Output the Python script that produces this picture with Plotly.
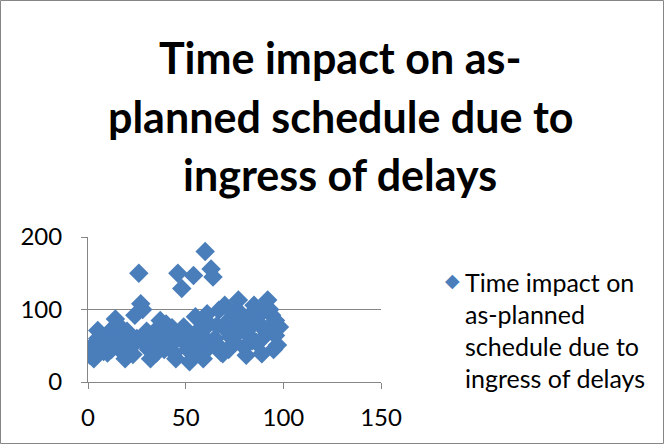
import plotly.graph_objects as go

x_vals = [1,2,3,4,5,6,7,8,9,10,11,12,13,14,15,16,17,18,19,20,21,22,23,24,25,26,27,28,29,30,
          31,32,33,34,35,36,37,38,39,40,41,42,43,44,45,46,47,48,49,50,51,52,53,54,55,56,57,58,59,60,
          61,62,63,64,65,66,67,68,69,70,71,72,73,74,75,76,77,78,79,80,81,82,83,84,85,86,87,88,89,90,
          91,92,93,94,95,96,97,98,
          5,10,15,20,30,35,40,43,48,55,58,62,66,72,75,78,82,86,90,94,96,60,50,38]
y_vals = [37,45,32,55,71,48,60,42,52,65,57,45,75,87,62,50,68,40,32,55,62,48,38,92,60,150,108,100,53,70,
          45,32,62,50,57,75,85,68,45,80,60,71,52,40,32,150,65,129,76,55,45,28,62,147,90,70,48,38,32,180,
          94,80,156,145,60,52,99,41,39,106,71,85,62,90,55,100,113,71,80,48,37,65,75,57,106,88,95,80,39,62,
          70,113,100,92,45,64,51,76,
          60,40,80,70,60,40,65,75,58,45,85,48,78,45,75,95,90,55,100,75,85,60,70,55]
x_ticks = [0, 50, 100, 150]
y_ticks = [0, 100, 200]
series_name = "Time impact on as-planned schedule due to ingress of delays"
title_lines = ["Time impact on as-", "planned schedule due to", "ingress of delays"]
legend_lines = ["Time impact on", "as-planned", "schedule due to", "ingress of delays"]

W, H = 665, 445
L, R, T, B = 88, 381, 237, 382
pw, ph = R - L, B - T
def px(x): return (x - L) / pw
def py(y): return (B - y) / ph

BLUE = "#4A7EBB"
GRID = "#868686"
FONT = "Lato"

fig = go.Figure()
fig.add_trace(go.Scatter(
    x=x_vals, y=y_vals, mode="markers", name=series_name,
    marker=dict(symbol="diamond", size=15, color=BLUE, line=dict(width=0)),
    showlegend=False,
))

annotations = []
for i, t in enumerate(title_lines):
    annotations.append(dict(text=f"<b>{t}</b>", x=px(340), y=py([57, 116, 174][i]),
                            xref="paper", yref="paper", showarrow=False,
                            xanchor="center", yanchor="middle",
                            font=dict(family=FONT, size=43, color="black")))
annotations.append(dict(text="◆", x=px(452), y=py(280), xref="paper", yref="paper",
                        showarrow=False, xanchor="center", yanchor="middle",
                        font=dict(family="DejaVu Sans", size=19, color=BLUE)))
for i, t in enumerate(legend_lines):
    annotations.append(dict(text=t, x=px(463), y=py([282, 314, 346, 378][i]),
                            xref="paper", yref="paper", showarrow=False,
                            xanchor="left", yanchor="middle",
                            font=dict(family=FONT, size=25, color="black")))

shapes = [dict(type="rect", xref="paper", yref="paper",
               x0=px(0.5), x1=px(W - 1.5), y0=py(H - 1.5), y1=py(0.5),
               line=dict(color=GRID, width=1), fillcolor="rgba(0,0,0,0)", layer="below")]

fig.update_layout(
    width=W, height=H,
    margin=dict(l=L, r=W - R, t=T, b=H - B, pad=0),
    paper_bgcolor="white", plot_bgcolor="white",
    font=dict(family=FONT, size=24, color="black"),
    xaxis=dict(range=[0, 150], tickvals=x_ticks, showgrid=False, zeroline=False,
               showline=True, linecolor=GRID, linewidth=1, ticks="outside", ticklen=6,
               tickcolor=GRID, tickfont=dict(family=FONT, size=24), ticklabelstandoff=8),
    yaxis=dict(range=[0, 200], tickvals=y_ticks, showgrid=True, gridcolor=GRID, gridwidth=1,
               zeroline=False, showline=True, linecolor=GRID, linewidth=1, ticks="outside",
               ticklen=6, tickcolor=GRID, tickfont=dict(family=FONT, size=24), ticklabelstandoff=14),
    annotations=annotations, shapes=shapes, showlegend=False,
)
fig.write_html("out.html", config={"displayModeBar": False},
               post_script="document.body.style.margin='0';")
